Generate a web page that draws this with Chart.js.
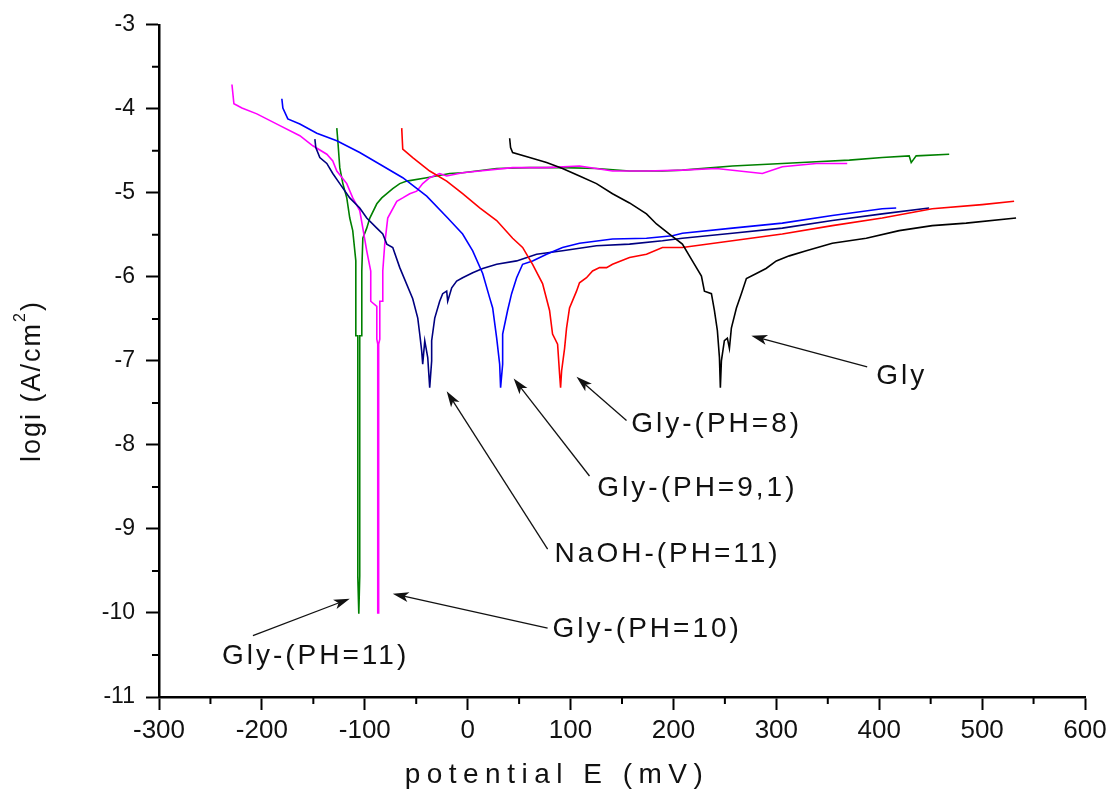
<!DOCTYPE html>
<html>
<head>
<meta charset="utf-8">
<script src="https://cdn.jsdelivr.net/npm/chart.js@4/dist/chart.umd.min.js"></script>
<style>
  html, body { margin: 0; padding: 0; background: #fff; }
</style>
</head>
<body>
<canvas id="chart" width="1112" height="795"></canvas>
<script>
"use strict";

const FONT = "'Liberation Sans', Arial, sans-serif";

// polarisation curves: [E (mV), log i]
const gly = [
  [40.8, -4.35], [41.7, -4.46], [43.7, -4.52], [60.2, -4.58], [76.7, -4.64], [92.2, -4.71],
  [108.7, -4.8], [125.2, -4.89], [140.8, -5.01], [157.3, -5.12], [173.8, -5.25], [183.5, -5.37],
  [196.1, -5.49], [208.7, -5.61], [218.4, -5.81], [227.2, -5.99], [230.1, -6.17], [236.9, -6.2],
  [239.8, -6.4], [242.7, -6.64], [244.7, -6.96], [245.6, -7.32], [246.6, -7.0], [249.5, -6.76],
  [252.4, -6.73], [254.4, -6.85], [256.3, -6.61], [261.2, -6.37], [266.0, -6.2], [270.9, -6.02],
  [280.6, -5.96], [290.0, -5.9], [300.0, -5.81], [312.6, -5.75], [329.1, -5.69], [354.4, -5.6],
  [387.4, -5.54], [419.4, -5.45], [451.5, -5.39], [484.5, -5.36], [533.0, -5.3],
];

const glyPh8 = [
  [-64.1, -4.23], [-63.1, -4.48], [-53.4, -4.58], [-36.9, -4.74], [-20.4, -4.86], [-4.9, -5.01],
  [11.7, -5.18], [28.2, -5.33], [43.7, -5.54], [53.4, -5.65], [63.1, -5.85], [72.8, -6.08],
  [79.6, -6.4], [82.5, -6.68], [87.4, -6.8], [89.3, -7.15], [90.3, -7.32], [91.3, -7.12],
  [94.2, -6.85], [96.1, -6.61], [99.0, -6.37], [105.8, -6.17], [108.7, -6.07], [115.5, -6.01],
  [121.4, -5.93], [128.2, -5.89], [135.0, -5.89], [140.8, -5.85], [157.3, -5.77], [173.8, -5.73],
  [189.3, -5.65], [208.7, -5.65], [257.3, -5.57], [305.8, -5.49], [354.4, -5.39], [402.9, -5.3],
  [451.5, -5.19], [500.0, -5.14], [531.1, -5.1],
];

const glyPh91 = [
  [-180.6, -3.88], [-179.6, -3.99], [-174.8, -4.12], [-163.1, -4.18], [-146.6, -4.29], [-127.2, -4.38],
  [-104.9, -4.52], [-82.5, -4.68], [-63.1, -4.82], [-39.8, -5.04], [-19.4, -5.3], [-4.9, -5.49],
  [4.9, -5.69], [14.6, -5.96], [21.4, -6.25], [24.3, -6.37], [28.2, -6.73], [31.1, -7.04],
  [32.0, -7.32], [34.0, -7.04], [34.0, -6.68], [38.8, -6.4], [42.7, -6.2], [47.6, -6.01],
  [53.4, -5.85], [63.1, -5.81], [76.7, -5.73], [92.2, -5.65], [108.7, -5.6], [140.8, -5.55],
  [173.8, -5.54], [199.0, -5.51], [208.7, -5.48], [257.3, -5.42], [305.8, -5.36], [354.4, -5.27],
  [402.9, -5.19], [416.5, -5.18],
];

const naohPh11 = [
  [-148.5, -4.36], [-147.6, -4.46], [-143.7, -4.58], [-136.9, -4.65], [-131.1, -4.77], [-124.3, -4.89],
  [-114.6, -5.06], [-104.9, -5.18], [-98.1, -5.3], [-88.3, -5.42], [-82.5, -5.49], [-78.6, -5.61],
  [-72.8, -5.65], [-66.0, -5.89], [-53.4, -6.26], [-48.5, -6.49], [-46.6, -6.68], [-44.7, -6.88],
  [-43.7, -7.04], [-41.7, -6.76], [-38.8, -6.96], [-36.9, -7.32], [-35.0, -7.0], [-35.0, -6.76],
  [-32.0, -6.49], [-27.2, -6.29], [-24.3, -6.2], [-20.4, -6.17], [-19.4, -6.29], [-15.5, -6.13],
  [-10.7, -6.05], [-4.9, -6.01], [4.9, -5.95], [14.6, -5.9], [28.2, -5.85], [47.6, -5.81],
  [67.0, -5.73], [92.2, -5.69], [125.2, -5.63], [157.3, -5.61], [189.3, -5.57], [208.7, -5.54],
  [257.3, -5.48], [305.8, -5.42], [354.4, -5.33], [402.9, -5.25], [448.5, -5.18],
];

const glyPh10 = [
  [-229.1, -3.71], [-227.2, -3.94], [-219.4, -3.99], [-204.9, -4.06], [-182.5, -4.2], [-163.1, -4.32],
  [-150.5, -4.44], [-136.9, -4.54], [-131.1, -4.62], [-127.2, -4.74], [-117.5, -4.89], [-111.7, -5.06],
  [-104.9, -5.21], [-101.9, -5.42], [-98.1, -5.69], [-94.2, -5.93], [-94.2, -6.29], [-88.3, -6.35],
  [-88.3, -6.74], [-87.4, -6.8], [-87.4, -10.0], [-86.5, -10.0], [-86.5, -6.8], [-85.4, -6.74],
  [-85.4, -6.29], [-82.5, -6.29], [-82.5, -5.93], [-80.6, -5.61], [-77.7, -5.3], [-68.9, -5.1],
  [-63.1, -5.06], [-56.3, -5.01], [-49.5, -4.98], [-43.7, -4.89], [-36.9, -4.82], [-27.2, -4.77],
  [-20.4, -4.8], [-4.9, -4.76], [11.7, -4.74], [43.7, -4.7], [76.7, -4.7], [108.7, -4.68],
  [140.8, -4.74], [173.8, -4.74], [208.7, -4.73], [241.7, -4.71], [286.4, -4.77], [305.8, -4.69],
  [338.8, -4.65], [368.9, -4.65],
];

const glyPh11 = [
  [-127.2, -4.23], [-126.2, -4.38], [-124.3, -4.7], [-121.3, -4.89], [-117.5, -5.06], [-114.6, -5.3],
  [-111.7, -5.45], [-108.7, -5.81], [-108.7, -6.7], [-106.8, -6.7], [-106.8, -9.56], [-105.8, -10.01],
  [-104.9, -9.56], [-104.9, -6.7], [-102.9, -6.7], [-102.9, -5.93], [-101.9, -5.54], [-98.1, -5.42],
  [-95.1, -5.3], [-88.3, -5.13], [-83.5, -5.06], [-78.6, -5.01], [-72.8, -4.95], [-66.0, -4.89],
  [-59.2, -4.86], [-39.8, -4.82], [-17.5, -4.77], [-4.9, -4.76], [28.2, -4.71], [60.2, -4.7],
  [92.2, -4.7], [125.2, -4.71], [157.3, -4.74], [189.3, -4.74], [208.7, -4.73], [257.3, -4.68],
  [305.8, -4.65], [338.8, -4.63], [370.9, -4.61], [402.9, -4.58], [429.1, -4.56], [431.1, -4.64],
  [435.9, -4.56], [468.0, -4.54],
];

const series = [
  { data: gly, color: "#000000" },
  { data: glyPh8, color: "#ff0000" },
  { data: glyPh91, color: "#0000ff" },
  { data: naohPh11, color: "#000080" },
  { data: glyPh10, color: "#ff00ff" },
  { data: glyPh11, color: "#008000" },
];

// curve labels and arrows, in data units
const labels = [
  { text: "Gly", x: 397, y: -7.18, from: [388.3, -7.07], to: [275.7, -6.7] },
  { text: "Gly-(PH=8)", x: 159, y: -7.75, from: [154.4, -7.71], to: [105.8, -7.19] },
  { text: "Gly-(PH=9,1)", x: 126, y: -8.52, from: [118.4, -8.37], to: [44.7, -7.21] },
  { text: "NaOH-(PH=11)", x: 84.5, y: -9.3, from: [77.7, -9.24], to: [-20.4, -7.36] },
  { text: "Gly-(PH=10)", x: 82.5, y: -10.19, from: [77.7, -10.18], to: [-72.8, -9.77] },
  { text: "Gly-(PH=11)", x: -238.8, y: -10.51, from: [-208.7, -10.27], to: [-114.6, -9.83] },
];

const xMinorTicks = [-250, -150, -50, 50, 150, 250, 350, 450, 550];
const yMinorTicks = [-10.5, -9.5, -8.5, -7.5, -6.5, -5.5, -4.5, -3.5];

const minorTicks = {
  id: "minorTicks",
  afterDraw(chart) {
    const { ctx } = chart;
    const { x, y } = chart.scales;
    ctx.save();
    ctx.strokeStyle = "#000";
    ctx.lineWidth = 2;
    ctx.beginPath();
    xMinorTicks.forEach((v) => {
      const px = x.getPixelForValue(v);
      ctx.moveTo(px, x.top);
      ctx.lineTo(px, x.top + 7);
    });
    yMinorTicks.forEach((v) => {
      const py = y.getPixelForValue(v);
      ctx.moveTo(y.right, py);
      ctx.lineTo(y.right - 7, py);
    });
    ctx.stroke();
    ctx.restore();
  },
};

const annotations = {
  id: "annotations",
  afterDraw(chart) {
    const { ctx, chartArea } = chart;
    const { x, y } = chart.scales;
    ctx.save();
    ctx.fillStyle = "#111";
    ctx.strokeStyle = "#111";

    // arrows
    labels.forEach(({ from, to }) => {
      const x0 = x.getPixelForValue(from[0]);
      const y0 = y.getPixelForValue(from[1]);
      const x1 = x.getPixelForValue(to[0]);
      const y1 = y.getPixelForValue(to[1]);
      const a = Math.atan2(y1 - y0, x1 - x0);
      ctx.lineWidth = 1.3;
      ctx.beginPath();
      ctx.moveTo(x0, y0);
      ctx.lineTo(x1 - 10 * Math.cos(a), y1 - 10 * Math.sin(a));
      ctx.stroke();
      ctx.beginPath();
      ctx.moveTo(x1, y1);
      ctx.lineTo(x1 - 16 * Math.cos(a) + 5 * Math.sin(a), y1 - 16 * Math.sin(a) - 5 * Math.cos(a));
      ctx.lineTo(x1 - 12 * Math.cos(a), y1 - 12 * Math.sin(a));
      ctx.lineTo(x1 - 16 * Math.cos(a) - 5 * Math.sin(a), y1 - 16 * Math.sin(a) + 5 * Math.cos(a));
      ctx.closePath();
      ctx.fill();
    });

    // curve names
    ctx.font = `28px ${FONT}`;
    ctx.letterSpacing = "3px";
    ctx.textAlign = "left";
    ctx.textBaseline = "middle";
    labels.forEach(({ text, x: lx, y: ly }) => {
      ctx.fillText(text, x.getPixelForValue(lx), y.getPixelForValue(ly));
    });

    // axis titles
    ctx.textAlign = "center";
    ctx.letterSpacing = "6.5px";
    ctx.fillText("potential E (mV)", chartArea.left + 398, 775);

    ctx.save();
    ctx.translate(33, 381);
    ctx.rotate(-Math.PI / 2);
    ctx.letterSpacing = "2px";
    ctx.textAlign = "left";
    ctx.font = `27px ${FONT}`;
    const head = "logi (A/cm";
    const tail = ")";
    const wHead = ctx.measureText(head).width;
    ctx.font = `16px ${FONT}`;
    const wSup = ctx.measureText("2").width;
    ctx.font = `27px ${FONT}`;
    const wTail = ctx.measureText(tail).width;
    let cx = -(wHead + wSup + wTail) / 2;
    ctx.fillText(head, cx, 0);
    cx += wHead;
    ctx.font = `16px ${FONT}`;
    ctx.fillText("2", cx, -12);
    cx += wSup;
    ctx.font = `27px ${FONT}`;
    ctx.fillText(tail, cx, 0);
    ctx.restore();

    ctx.restore();
  },
};

const main = () => {
  const canvas = document.getElementById("chart");
  if (!(canvas instanceof HTMLCanvasElement)) throw new Error();

  new Chart(canvas, {
    type: "scatter",
    data: {
      datasets: series.map(({ data, color }) => ({
        data: data.map(([x, y]) => ({ x, y })),
        showLine: true,
        borderColor: color,
        backgroundColor: color,
        borderWidth: 1.6,
        pointRadius: 0,
        tension: 0,
      })),
    },
    options: {
      responsive: false,
      animation: false,
      devicePixelRatio: 1,
      layout: { padding: { left: 79, right: 27, top: 24, bottom: 38 } },
      plugins: { legend: { display: false }, tooltip: { enabled: false } },
      scales: {
        x: {
          type: "linear",
          min: -300,
          max: 600,
          afterFit: (s) => { s.height = 60; },
          ticks: {
            stepSize: 100,
            autoSkip: false,
            maxRotation: 0,
            padding: 5,
            color: "#111",
            font: { family: FONT, size: 26 },
          },
          grid: { drawOnChartArea: false, tickLength: 13, tickColor: "#000", tickWidth: 2 },
          border: { color: "#000", width: 2.5 },
        },
        y: {
          type: "linear",
          min: -11,
          max: -3,
          afterFit: (s) => { s.width = 80; },
          ticks: {
            stepSize: 1,
            autoSkip: false,
            padding: 11,
            color: "#111",
            font: { family: FONT, size: 23 },
          },
          grid: { drawOnChartArea: false, tickLength: 13, tickColor: "#000", tickWidth: 2 },
          border: { color: "#000", width: 2.5 },
        },
      },
    },
    plugins: [minorTicks, annotations],
  });
};

main();
</script>
</body>
</html>
